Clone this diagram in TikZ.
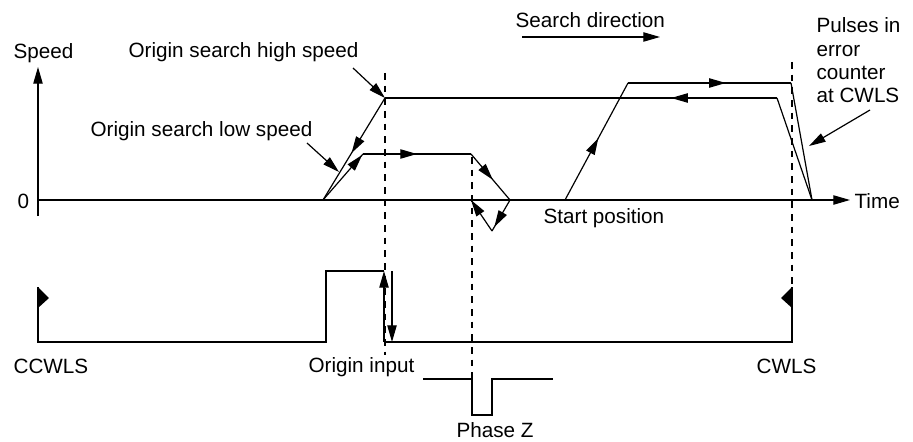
\documentclass[tikz,border=0pt]{standalone}
\usepackage{fontspec}
\setmainfont{Liberation Sans}
\usetikzlibrary{arrows.meta,decorations.markings}

\begin{document}
\begin{tikzpicture}[x=0.75pt,y=-0.75pt,
  font=\fontsize{15.5}{17.6}\selectfont,
  line width=0.9pt,
  tip/.style={-{Triangle[length=12.5pt,width=7pt]}},
  midtip/.style={postaction={decorate},decoration={markings,
    mark=at position #1 with {\arrow{Triangle[length=12.5pt,width=7pt]}}}},
  guide/.style={dash pattern=on 5pt off 4.5pt,line width=0.8pt}]
\useasboundingbox (0,0) rectangle (913,442);

% Axes
\coordinate (yfoot) at (38,216);
\coordinate (ytop) at (38,67);
\coordinate (zero) at (38,200);
\coordinate (xend) at (850,200);
\draw[tip] (yfoot) -- (ytop);
\draw[tip] (zero) -- (xend);

\node[anchor=base west,inner sep=0pt] (speed) at (13,59) {Speed};
\node[anchor=base west,inner sep=0pt] (nought) at (17,208) {0};
\node[anchor=base west,inner sep=0pt] (time) at (854,208) {Time};

% Speed profile corners
\coordinate (s0) at (565,200);
\coordinate (s1) at (628,83);
\coordinate (s2) at (791,83);
\coordinate (s3) at (812,200);
\coordinate (s4) at (777,98);
\coordinate (s5) at (385,98);
\coordinate (s6) at (323,200);
\coordinate (s7) at (363,154);
\coordinate (s8) at (471,154);
\coordinate (s9) at (510,200);
\coordinate (s10) at (492,231);
\coordinate (s11) at (471,200);

% Speed profile
\draw[midtip=0.53] (s0) -- (s1);
\draw[midtip=0.6] (s1) -- (s2);
\draw (s2) -- (s3);
\draw (s3) -- (s4);
\draw[midtip=0.27] (s4) -- (s5);
\draw[midtip=0.54] (s5) -- (s6);
\draw[midtip=0.98] (s6) -- (s7);
\draw[midtip=0.5] (s7) -- (s8);
\draw[midtip=0.56] (s8) -- (s9);
\draw[midtip=0.87] (s9) -- (s10);
\draw[tip] (s10) -- (s11);

% Dashed guides
\draw[guide] (385,73) -- (385,355);
\draw[guide] (472,157) -- (472,379);
\draw[guide] (792,62) -- (792,287);

% Labels on the profile
\node[anchor=base west,inner sep=0pt] (high) at (128,58) {Origin search high speed};
\node[anchor=base west,inner sep=0pt] (low) at (90,137) {Origin search low speed};
\node[anchor=base west,inner sep=0pt] (start) at (543,223) {Start position};
\node[anchor=base west,inner sep=0pt] (search) at (515,28) {Search direction};
\node[anchor=base west,inner sep=0pt,align=left] (pulses) at (816,103) {Pulses in\\error\\counter\\at CWLS};

\coordinate (hightail) at (353,68);
\coordinate (lowtail) at (307,143);
\coordinate (lowtip) at (339,172);
\coordinate (pulsetail) at (870,110);
\coordinate (pulsetip) at (809,146);
\coordinate (dirA) at (522,37);
\coordinate (dirB) at (660,37);
\draw[tip] (hightail) -- (s5);
\draw[tip] (lowtail) -- (lowtip);
\draw[tip] (pulsetail) -- (pulsetip);
\draw[tip] (dirA) -- (dirB);

% Limit switches and origin input
\fill (38,287) -- (49,298) -- (38,308) -- cycle;
\fill (792,287) -- (781,298) -- (792,308) -- cycle;
\draw (38,287) -- (38,342) -- (326,342) -- (326,271) -- (384,271);
\draw[tip] (384,342) -- (384,271);
\draw[tip] (392,271) -- (392,342);
\draw (384,342) -- (792,342) -- (792,287);

% Phase Z
\draw (423,379) -- (472,379) -- (472,415) -- (492,415) -- (492,379) -- (553,379);

\node[anchor=base west,inner sep=0pt] (ccwls) at (13,373) {CCWLS};
\node[anchor=base west,inner sep=0pt] (origin) at (308,372) {Origin input};
\node[anchor=base west,inner sep=0pt] (cwls) at (756,373) {CWLS};
\node[anchor=base west,inner sep=0pt] (phasez) at (456,437) {Phase Z};
\end{tikzpicture}
\end{document}
